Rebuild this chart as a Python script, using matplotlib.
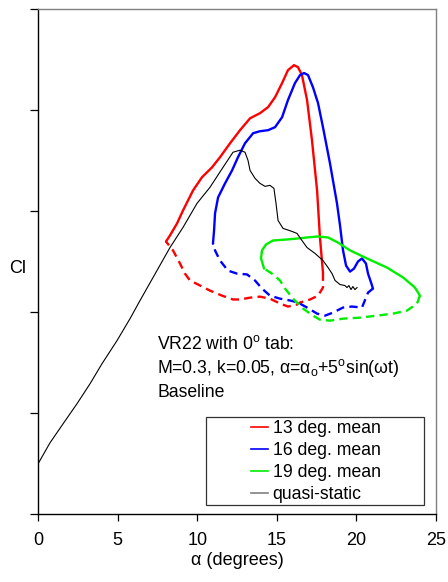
import matplotlib
matplotlib.use("Agg")
import matplotlib.pyplot as plt
from matplotlib.lines import Line2D
from matplotlib.patches import Rectangle

plt.rcParams['font.family'] = ['Liberation Sans', 'DejaVu Sans']
plt.rcParams['mathtext.fontset'] = 'custom'
plt.rcParams['mathtext.rm'] = 'Liberation Sans'
plt.rcParams['mathtext.it'] = 'Liberation Sans:italic'

# 13 deg mean: upstroke (solid) and downstroke (dashed)
a13_up = [8.04, 8.29, 8.73, 9.11, 9.74, 10.30, 10.93, 11.43, 12.06, 12.69, 13.32, 13.94,
          14.45, 14.89, 15.33, 15.70, 16.08, 16.33, 16.58, 16.90, 17.21, 17.53, 17.71, 17.90]
cl13_up = [1.349, 1.379, 1.438, 1.503, 1.602, 1.667, 1.716, 1.766, 1.835, 1.900, 1.959, 1.984,
           2.014, 2.063, 2.133, 2.197, 2.222, 2.212, 2.173, 2.049, 1.850, 1.602, 1.369, 1.195]
a13_dn = [17.90, 17.90, 17.59, 17.09, 16.46, 16.27, 15.70, 15.20, 14.57, 13.94, 13.32, 12.69,
          12.25, 11.56, 10.80, 10.18, 9.55, 9.23, 8.92, 8.48, 8.04]
cl13_dn = [1.195, 1.121, 1.081, 1.062, 1.047, 1.037, 1.027, 1.042, 1.066, 1.076, 1.071, 1.062,
           1.062, 1.081, 1.106, 1.131, 1.156, 1.190, 1.240, 1.305, 1.349]

# 16 deg mean
a16_up = [10.99, 11.06, 11.12, 11.31, 11.75, 12.19, 12.56, 13.00, 13.51, 13.94, 14.45, 14.89,
          15.33, 15.70, 16.14, 16.46, 16.71, 16.96, 17.27, 17.59, 17.90, 18.34, 18.78, 18.97,
          19.16, 19.35, 19.60, 19.85, 20.10, 20.35, 20.60, 20.73, 20.92, 21.04]
cl16_up = [1.339, 1.404, 1.488, 1.567, 1.637, 1.701, 1.766, 1.835, 1.885, 1.895, 1.900, 1.915,
           1.964, 2.049, 2.133, 2.173, 2.183, 2.173, 2.113, 2.034, 1.915, 1.736, 1.538, 1.429,
           1.305, 1.230, 1.200, 1.215, 1.250, 1.265, 1.240, 1.190, 1.146, 1.116]
a16_dn = [21.04, 20.73, 20.35, 19.72, 19.16, 18.53, 18.03, 17.53, 16.90, 16.33, 15.83, 15.20,
          14.57, 14.07, 13.63, 13.13, 12.50, 11.93, 11.43, 11.12, 10.99]
cl16_dn = [1.116, 1.096, 1.022, 1.027, 1.022, 0.997, 0.982, 0.992, 1.022, 1.047, 1.057, 1.066,
           1.081, 1.116, 1.156, 1.186, 1.190, 1.205, 1.255, 1.305, 1.339]

# 19 deg mean
a19_up = [14.20, 14.01, 14.07, 14.32, 14.76, 15.64, 16.33, 16.90, 17.59, 18.22, 18.84, 19.60,
          20.67, 21.92, 22.93, 23.68, 23.99]
cl19_up = [1.215, 1.265, 1.305, 1.334, 1.354, 1.359, 1.364, 1.369, 1.374, 1.369, 1.344, 1.305,
           1.265, 1.220, 1.171, 1.121, 1.081]
a19_dn = [23.99, 23.81, 23.18, 22.30, 21.29, 20.23, 19.16, 18.34, 17.71, 17.27, 16.65, 16.02,
          15.52, 15.20, 14.70, 14.20]
cl19_dn = [1.081, 1.042, 1.007, 0.992, 0.982, 0.972, 0.967, 0.957, 0.962, 0.982, 1.017, 1.066,
           1.116, 1.156, 1.190, 1.215]

# quasi-static curve
a_qs = [0.00, 0.75, 1.57, 2.45, 3.27, 4.02, 4.96, 5.78, 6.41, 8.29, 9.11, 9.99, 10.80, 11.62,
        12.25, 12.69, 13.00, 13.19, 13.32, 13.63, 13.94, 14.26, 14.57, 14.82, 14.95, 15.08,
        15.39, 15.95, 16.27, 16.58, 16.90, 17.40, 17.90, 18.22, 18.47, 18.66, 18.97, 19.28,
        19.41, 19.53, 19.66, 19.78, 19.91, 20.04]
cl_qs = [0.248, 0.352, 0.446, 0.546, 0.645, 0.744, 0.858, 0.967, 1.057, 1.319, 1.419, 1.538,
         1.617, 1.716, 1.791, 1.801, 1.791, 1.751, 1.701, 1.662, 1.637, 1.622, 1.627, 1.612,
         1.538, 1.453, 1.414, 1.399, 1.389, 1.354, 1.319, 1.290, 1.255, 1.220, 1.190, 1.156,
         1.136, 1.131, 1.121, 1.131, 1.111, 1.126, 1.111, 1.121]

labels = ['13 deg. mean', '16 deg. mean', '19 deg. mean', 'quasi-static']
colors = ['#ff0000', '#0000ff', '#00ee00', '#808080']

fig = plt.figure(figsize=(4.48, 5.82), dpi=100)
ax = fig.add_axes([38 / 448, 1 - 514 / 582, 398 / 448, 505 / 582])

dash = (3.5, 2.2)
loops = [(a13_up, cl13_up, a13_dn, cl13_dn), (a16_up, cl16_up, a16_dn, cl16_dn),
         (a19_up, cl19_up, a19_dn, cl19_dn)]
for (au, cu, ad, cd), c in zip(loops, colors[:3]):
    ax.plot(au, cu, color=c, lw=1.7, solid_capstyle='round', solid_joinstyle='round', zorder=3)
    ax.plot(ad, cd, color=c, lw=1.7, dashes=dash, zorder=3)
ax.plot(a_qs, cl_qs, color='black', lw=0.8, zorder=4)

ax.set_xlim(0, 25)
ax.set_ylim(0, 2.5)
ax.set_xticks([0, 5, 10, 15, 20, 25])
ax.set_yticks([0, 0.5, 1.0, 1.5, 2.0, 2.5])
ax.set_yticklabels([])
ax.tick_params(axis='x', direction='out', length=5, width=0.9, pad=8, labelsize=13)
ax.tick_params(axis='y', direction='out', length=6, width=0.9)

for s in ['left', 'bottom']:
    ax.spines[s].set_color('black')
    ax.spines[s].set_linewidth(1.0)
for s in ['top', 'right']:
    ax.spines[s].set_color('#808080')
    ax.spines[s].set_linewidth(1.0)

ax.set_xlabel('α (degrees)', fontsize=13, labelpad=2)
ax.set_ylabel('Cl', fontsize=13, rotation=0, ha='center', va='center')
ax.yaxis.set_label_coords(-0.05, 0.487)

# annotation block
ax.text(0.299, 0.3267, r'VR22 with 0$^{\mathrm{o}}$ tab:', transform=ax.transAxes,
        fontsize=12.7, va='baseline')
ax.text(0.299, 0.2792, r'M=0.3, k=0.05, α=α$_{\mathrm{o}}$+5$^{\mathrm{o}}$sin(ωt)',
        transform=ax.transAxes, fontsize=12.7, va='baseline')
ax.text(0.299, 0.2317, 'Baseline', transform=ax.transAxes, fontsize=12.7, va='baseline')

# legend box
ax.add_patch(Rectangle((0.422, 0.018), 0.548, 0.174, transform=ax.transAxes,
                       facecolor='white', edgecolor='#333333', lw=0.9, zorder=5))
handles = [Line2D([], [], color=c, lw=1.2) for c in colors]
ax.legend(handles, labels, loc='center left', bbox_to_anchor=(0.534, 0.104),
          frameon=False, fontsize=12.7, handlelength=1.0, handletextpad=0.25,
          labelspacing=0.29, borderpad=0, borderaxespad=0).set_zorder(6)

fig.savefig('out.png', dpi=100)
